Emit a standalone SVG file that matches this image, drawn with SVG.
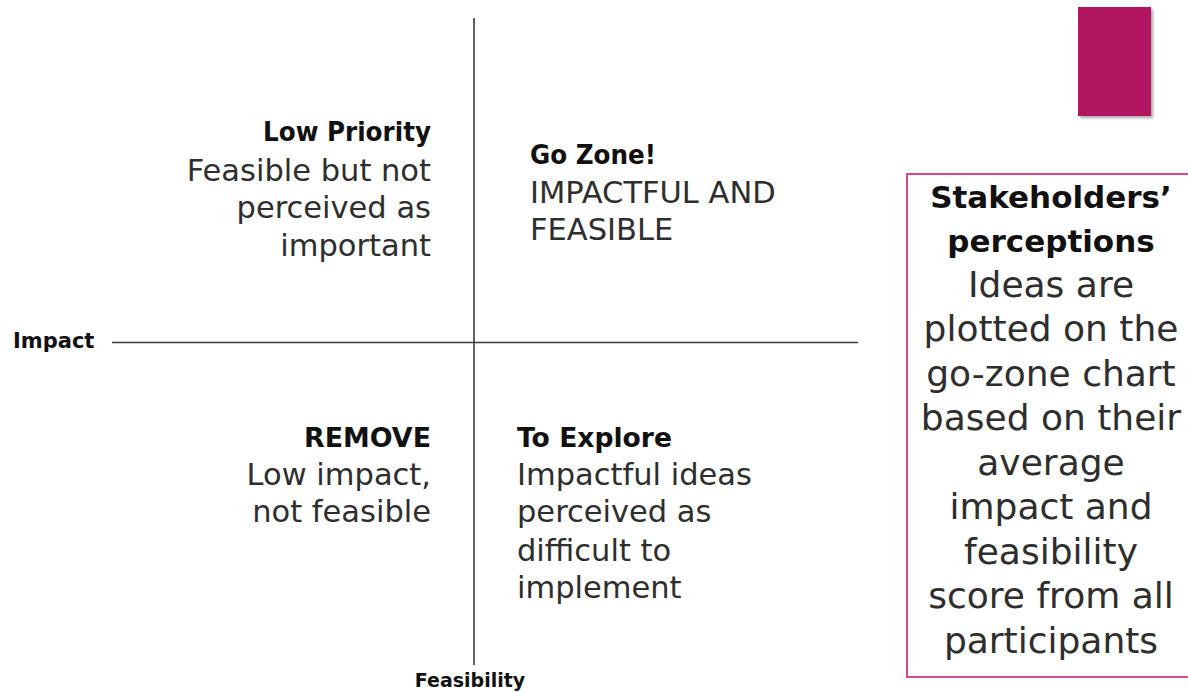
<svg xmlns="http://www.w3.org/2000/svg" width="1188" height="692" viewBox="0 0 1188 692">
  <defs>
    <filter id="softShadow" x="-10%" y="-10%" width="130%" height="130%">
      <feDropShadow dx="2" dy="2" stdDeviation="1.5" flood-color="#000" flood-opacity="0.35"/>
    </filter>
  </defs>
  <style>
    .axis { stroke: #3a3a3a; stroke-width: 1.6; fill: none; }
    .head { font-family: "DejaVu Sans", "Liberation Sans", sans-serif; font-weight: bold; font-size: 27px; fill: #111; }
    .body { font-family: "DejaVu Sans", "Liberation Sans", sans-serif; font-size: 30.5px; fill: #2e2e2e; }
    .axislabel { font-family: "DejaVu Sans", "Liberation Sans", sans-serif; font-weight: bold; fill: #111; }
    .right { text-anchor: end; }
    .boxhead { font-family: "DejaVu Sans", "Liberation Sans", sans-serif; font-weight: bold; font-size: 31px; fill: #111; text-anchor: middle; }
    .boxbody { font-family: "DejaVu Sans", "Liberation Sans", sans-serif; font-size: 36px; fill: #2e2e2e; text-anchor: middle; }
  </style>
  <rect width="1188" height="692" fill="#ffffff"/>

  <!-- chart axes -->
  <g id="connectors">
    <line class="axis" x1="474" y1="18" x2="474" y2="665"/>
    <line class="axis" x1="112" y1="342.5" x2="858" y2="342.5"/>
  </g>

  <g id="axis-impact">
    <text class="axislabel" x="13" y="348" font-size="21">Impact</text>
  </g>
  <g id="axis-feasibility">
    <text class="axislabel" x="470" y="687" font-size="19" text-anchor="middle">Feasibility</text>
  </g>

  <!-- quadrants -->
  <g id="low-priority">
    <text class="head" x="263" y="141" textLength="168" lengthAdjust="spacingAndGlyphs">Low Priority</text>
    <text class="body right" x="431" y="181">Feasible but not</text>
    <text class="body right" x="431" y="218">perceived as</text>
    <text class="body right" x="431" y="256">important</text>
  </g>

  <g id="go-zone">
    <text class="head" x="530" y="164" textLength="126" lengthAdjust="spacingAndGlyphs">Go Zone!</text>
    <text class="body" x="530" y="203">IMPACTFUL AND</text>
    <text class="body" x="530" y="240">FEASIBLE</text>
  </g>

  <g id="remove">
    <text class="head" x="304" y="447" textLength="127" lengthAdjust="spacingAndGlyphs">REMOVE</text>
    <text class="body right" x="431" y="485">Low impact,</text>
    <text class="body right" x="431" y="522">not feasible</text>
  </g>

  <g id="to-explore">
    <text class="head" x="517" y="447" textLength="155" lengthAdjust="spacingAndGlyphs">To Explore</text>
    <text class="body" x="517" y="485">Impactful ideas</text>
    <text class="body" x="517" y="522">perceived as</text>
    <text class="body" x="517" y="561">difficult to</text>
    <text class="body" x="517" y="598">implement</text>
  </g>

  <!-- accent block -->
  <g id="accent">
    <rect x="1078" y="7" width="73" height="109" fill="#b21460" filter="url(#softShadow)"/>
  </g>

  <!-- explanation panel -->
  <g id="stakeholders-panel">
    <rect x="907" y="174" width="300" height="503" fill="none" stroke="#d9478f" stroke-width="2"/>
    <text class="boxhead" x="1051" y="208">Stakeholders’</text>
    <text class="boxhead" x="1051" y="252">perceptions</text>
    <text class="boxbody" x="1051" y="297">Ideas are</text>
    <text class="boxbody" x="1051" y="341">plotted on the</text>
    <text class="boxbody" x="1051" y="386">go-zone chart</text>
    <text class="boxbody" x="1051" y="430">based on their</text>
    <text class="boxbody" x="1051" y="475">average</text>
    <text class="boxbody" x="1051" y="519">impact and</text>
    <text class="boxbody" x="1051" y="564">feasibility</text>
    <text class="boxbody" x="1051" y="608">score from all</text>
    <text class="boxbody" x="1051" y="653">participants</text>
  </g>
</svg>
